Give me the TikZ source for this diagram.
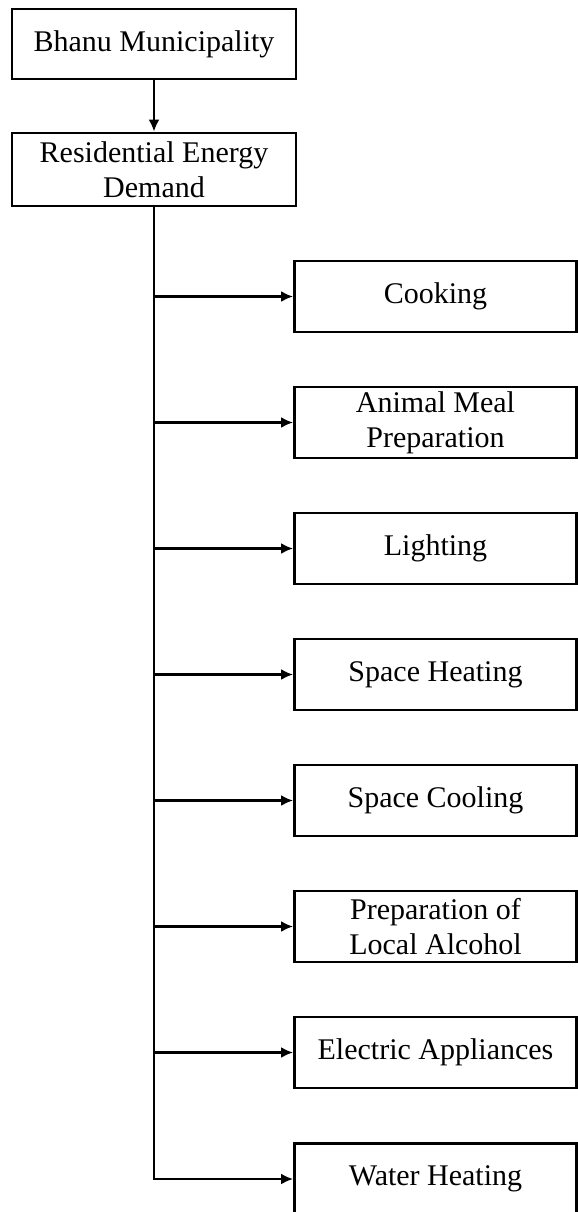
\documentclass[tikz,border=0pt]{standalone}
\usepackage{fontspec}
\setmainfont{Liberation Serif}
\usepackage{tikz}
\usetikzlibrary{arrows.meta,positioning}

\tikzset{
  box/.style={draw, line width=1.4pt, align=center, inner sep=2pt,
    font=\fontsize{15}{17.5}\selectfont},
  topbox/.style={box, minimum width=142pt, minimum height=35pt},
  subbox/.style={box, minimum width=141pt, minimum height=35.5pt},
  link/.style={line width=1.4pt, -{Latex[length=6pt,width=5.5pt]}}
}

\begin{document}
\begin{tikzpicture}[x=0.5pt,y=-0.5pt,>=Stealth]
    \useasboundingbox (0,0) rectangle (578,1212);
    \node[topbox] (bhanu) at (154,44) {Bhanu Municipality};
    \node[topbox, minimum height=36.5pt] (demand) at (154,169.5) {Residential Energy\\Demand};
    \draw[link] (bhanu) -- (demand);
    % end uses
    \node[subbox] (cook)  at (435.5,296.5)  {Cooking};
    \node[subbox] (meal)  at (435.5,422.5)  {Animal Meal\\Preparation};
    \node[subbox] (light) at (435.5,548.5)  {Lighting};
    \node[subbox] (heat)  at (435.5,674.5)  {Space Heating};
    \node[subbox] (cool)  at (435.5,800.5)  {Space Cooling};
    \node[subbox] (alco)  at (435.5,926.5)  {Preparation of\\Local Alcohol};
    \node[subbox] (appl)  at (435.5,1052.5) {Electric Appliances};
    \node[subbox] (water) at (435.5,1179)   {Water Heating};
    % trunk and branches
    \draw[link] (demand.south) |- (water.west);
    \draw[link] (cook.west -| demand.south) -- (cook.west);
    \draw[link] (meal.west -| demand.south) -- (meal.west);
    \draw[link] (light.west -| demand.south) -- (light.west);
    \draw[link] (heat.west -| demand.south) -- (heat.west);
    \draw[link] (cool.west -| demand.south) -- (cool.west);
    \draw[link] (alco.west -| demand.south) -- (alco.west);
    \draw[link] (appl.west -| demand.south) -- (appl.west);
\end{tikzpicture}
\end{document}
